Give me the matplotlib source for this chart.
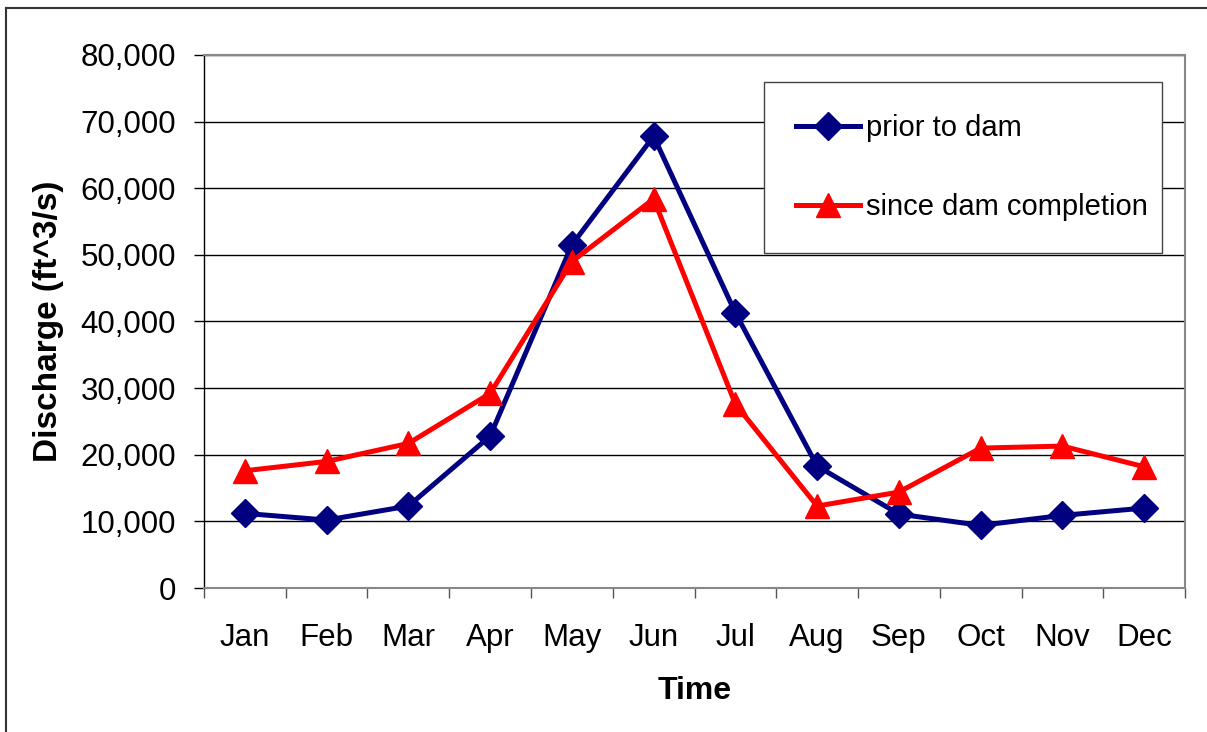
import numpy as np
import matplotlib.pyplot as plt
from matplotlib.lines import Line2D
from matplotlib.ticker import FuncFormatter, MultipleLocator, FixedLocator

plt.rcParams['font.family'] = ['Liberation Sans', 'DejaVu Sans']

months = ['Jan', 'Feb', 'Mar', 'Apr', 'May', 'Jun',
          'Jul', 'Aug', 'Sep', 'Oct', 'Nov', 'Dec']
prior = [11200, 10200, 12300, 22800, 51500, 67800,
         41300, 18300, 11100, 9400, 10900, 12000]
since = [17600, 19000, 21700, 29200, 49000, 58400,
         27600, 12300, 14400, 21000, 21300, 18200]

x = np.arange(len(months))

fig = plt.figure(figsize=(12.07, 7.32), dpi=100)
ax = fig.add_axes([0.169, 0.1967, 0.8128, 0.7282])

ax.plot(x, prior, color='#000080', lw=3.6, marker='D', ms=14,
        label='prior to dam', zorder=3)
ax.plot(x, since, color='#FF0000', lw=3.6, marker='^', ms=17,
        label='since dam completion', zorder=3)

ax.set_xlim(-0.5, 11.5)
ax.set_ylim(0, 80000)
ax.yaxis.set_major_locator(MultipleLocator(10000))
ax.yaxis.set_major_formatter(FuncFormatter(lambda v, p: f'{int(v):,}'))
ax.grid(axis='y', color='black', lw=1)
ax.set_axisbelow(True)

ax.set_xticks(x)
ax.set_xticklabels(months)
ax.xaxis.set_minor_locator(FixedLocator(np.arange(-0.5, 12, 1)))
ax.tick_params(axis='x', which='major', length=0, pad=25, labelsize=22.5)
ax.tick_params(axis='x', which='minor', length=7, width=1, color='#555555')
ax.tick_params(axis='y', length=7, width=1, pad=13, labelsize=22.5)

for s in ['top', 'right', 'bottom']:
    ax.spines[s].set_color('#888888')
    ax.spines[s].set_linewidth(1.5)
ax.spines['left'].set_color('black')
ax.spines['left'].set_linewidth(1)

ax.set_xlabel('Time', fontsize=23, fontweight='bold', labelpad=17)
ax.set_ylabel('Discharge (ft^3/s)', fontsize=24, fontweight='bold', labelpad=12)

leg = ax.legend(loc='upper left', bbox_to_anchor=(0.571, 0.638, 0.406, 0.311),
                mode='expand', borderaxespad=0, fontsize=21, frameon=True,
                fancybox=False, edgecolor='#444444', framealpha=1,
                labelspacing=1.75, handlelength=2.2, handletextpad=0.2,
                borderpad=1.1)
leg.get_frame().set_linewidth(1)

# outer chart border (left and top edges visible)
fig.add_artist(Line2D([6/1207, 6/1207], [0, 1 - 8/732], transform=fig.transFigure,
                      color='#333333', lw=1.5))
fig.add_artist(Line2D([6/1207, 1], [1 - 8/732, 1 - 8/732], transform=fig.transFigure,
                      color='#333333', lw=1.5))

fig.savefig('out.png', dpi=100)
